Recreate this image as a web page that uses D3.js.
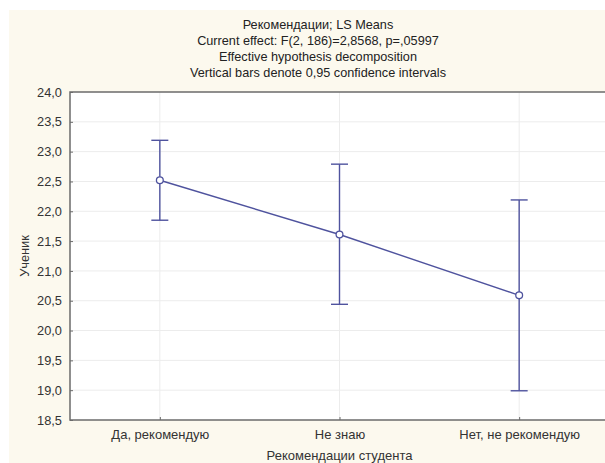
<!DOCTYPE html>
<html>
<head>
<meta charset="utf-8">
<script src="https://cdn.jsdelivr.net/npm/d3@7"></script>
<style>
  html, body { margin: 0; padding: 0; background: #ffffff; }
  svg { display: block; }
</style>
</head>
<body>
<svg id="chart" width="605" height="463"></svg>
<script>
// data
const categories = ["Да, рекомендую", "Не знаю", "Нет, не рекомендую"];
const means = [22.52, 21.61, 20.59];
const lower = [21.85, 20.44, 18.99];
const upper = [23.19, 22.79, 22.19];
const yTicks = [18.5, 19.0, 19.5, 20.0, 20.5, 21.0, 21.5, 22.0, 22.5, 23.0, 23.5, 24.0];
const titleLines = [
  "Рекомендации; LS Means",
  "Current effect: F(2, 186)=2,8568, p=,05997",
  "Effective hypothesis decomposition",
  "Vertical bars denote 0,95 confidence intervals"
];
const xTitle = "Рекомендации студента";
const yTitle = "Ученик";

const W = 605, H = 463;
const plot = { left: 70, right: 609, top: 92, bottom: 420 };
const FONT = "'Liberation Sans', Arial, sans-serif";
const LINE = "#4f539e";
const AXIS = "#6b6b6b";
const fmt = (v) => d3.format(".1f")(v).replace(".", ",");

const svg = d3.select("#chart");

// cream panel behind everything
svg.append("rect")
  .attr("x", 9).attr("y", 10)
  .attr("width", W - 9).attr("height", H - 10)
  .attr("fill", "#fcf9ee");

// plot area
svg.append("rect")
  .attr("x", plot.left).attr("y", plot.top)
  .attr("width", plot.right - plot.left).attr("height", plot.bottom - plot.top)
  .attr("fill", "#ffffff");

const x = d3.scalePoint().domain(categories).range([plot.left, plot.right]).padding(0.5);
const y = d3.scaleLinear().domain([18.5, 24]).range([plot.bottom, plot.top]);

// grid
const grid = svg.append("g").attr("stroke", "#ececec").attr("stroke-width", 1);
yTicks.slice(1, -1).forEach((t) => {
  grid.append("line")
    .attr("x1", plot.left).attr("x2", plot.right)
    .attr("y1", y(t)).attr("y2", y(t));
});
categories.forEach((c) => {
  grid.append("line")
    .attr("x1", x(c)).attr("x2", x(c))
    .attr("y1", plot.top).attr("y2", plot.bottom);
});

// frame
svg.append("rect")
  .attr("x", plot.left).attr("y", plot.top)
  .attr("width", plot.right - plot.left).attr("height", plot.bottom - plot.top)
  .attr("fill", "none").attr("stroke", AXIS).attr("stroke-width", 1.5);

// axes
const yAxis = svg.append("g")
  .attr("transform", `translate(${plot.left},0)`)
  .call(d3.axisLeft(y).tickValues(yTicks).tickFormat(fmt).tickSizeInner(-3).tickSizeOuter(0).tickPadding(8));
yAxis.select(".domain").remove();
yAxis.selectAll("line").attr("stroke", AXIS);
yAxis.selectAll("text")
  .attr("font-family", FONT).attr("font-size", 12.8).attr("fill", "#333");

const xAxis = svg.append("g")
  .attr("transform", `translate(0,${plot.bottom})`)
  .call(d3.axisBottom(x).tickSizeInner(-3).tickSizeOuter(0).tickPadding(10));
xAxis.select(".domain").remove();
xAxis.selectAll("line").attr("stroke", AXIS);
xAxis.selectAll("text")
  .attr("font-family", FONT).attr("font-size", 13).attr("fill", "#333");

// connecting line
svg.append("path")
  .datum(categories.map((c, i) => [x(c), y(means[i])]))
  .attr("d", d3.line())
  .attr("fill", "none").attr("stroke", LINE).attr("stroke-width", 1.4);

// error bars
const bars = svg.append("g").attr("stroke", LINE).attr("stroke-width", 1.4);
categories.forEach((c, i) => {
  const cx = x(c);
  bars.append("line").attr("x1", cx).attr("x2", cx).attr("y1", y(lower[i])).attr("y2", y(upper[i]));
  bars.append("line").attr("x1", cx - 8.5).attr("x2", cx + 8.5).attr("y1", y(lower[i])).attr("y2", y(lower[i]));
  bars.append("line").attr("x1", cx - 8.5).attr("x2", cx + 8.5).attr("y1", y(upper[i])).attr("y2", y(upper[i]));
});

// mean markers
svg.append("g").selectAll("circle")
  .data(categories)
  .join("circle")
  .attr("cx", (c) => x(c))
  .attr("cy", (c, i) => y(means[i]))
  .attr("r", 3.4)
  .attr("fill", "#ffffff").attr("stroke", LINE).attr("stroke-width", 1.3);

// titles
svg.append("g").selectAll("text")
  .data(titleLines)
  .join("text")
  .attr("x", 318)
  .attr("y", (d, i) => 28.5 + i * 16)
  .attr("text-anchor", "middle")
  .attr("font-family", FONT).attr("font-size", 12.7).attr("fill", "#222")
  .text((d) => d);

svg.append("text")
  .attr("x", (plot.left + plot.right) / 2)
  .attr("y", 459.5)
  .attr("text-anchor", "middle")
  .attr("font-family", FONT).attr("font-size", 13).attr("fill", "#333")
  .text(xTitle);

svg.append("text")
  .attr("transform", `translate(29,${(plot.top + plot.bottom) / 2}) rotate(-90)`)
  .attr("text-anchor", "middle")
  .attr("font-family", FONT).attr("font-size", 12.8).attr("fill", "#333")
  .text(yTitle);
</script>
</body>
</html>
